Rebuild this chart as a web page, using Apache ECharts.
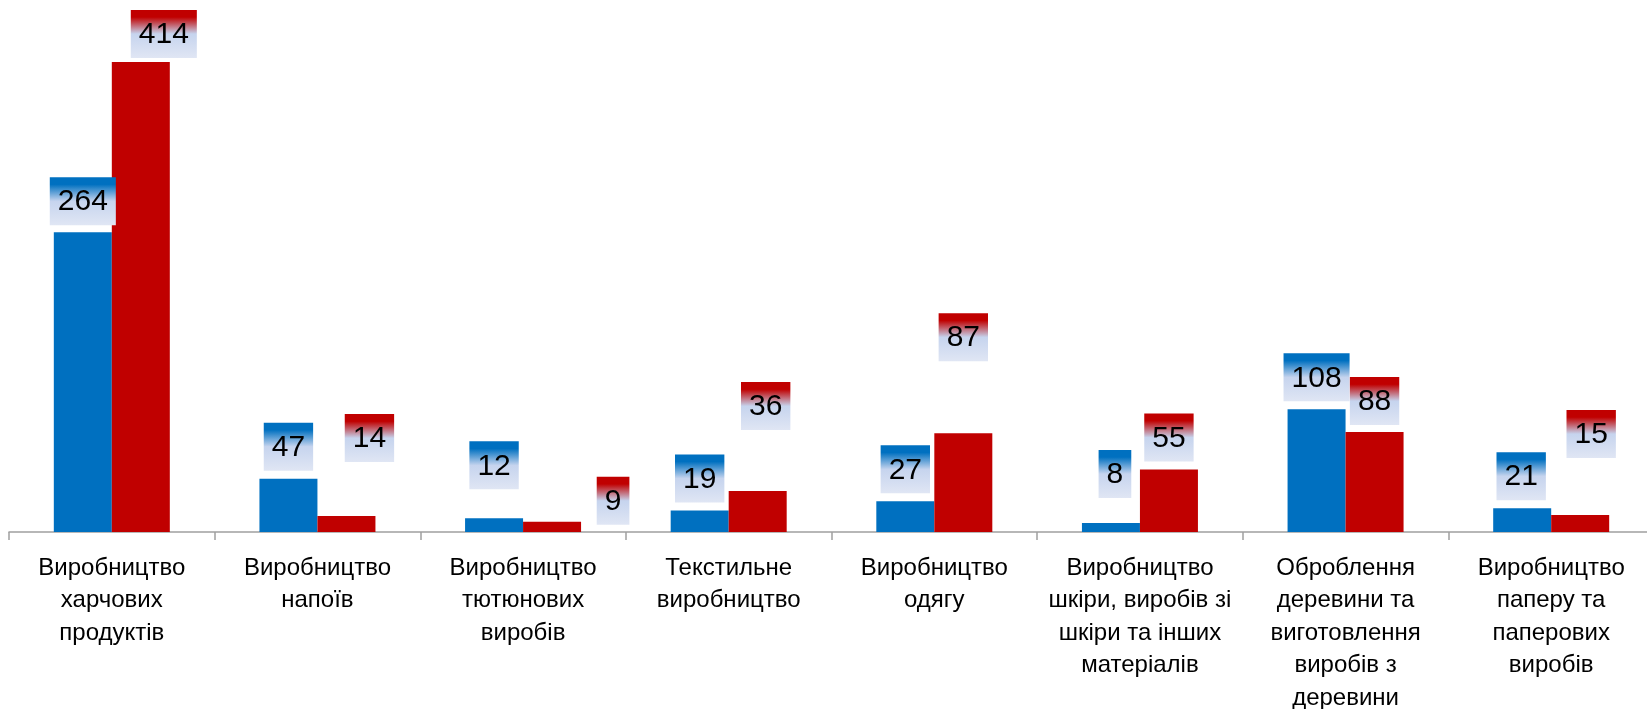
<!DOCTYPE html>
<html>
<head>
<meta charset="utf-8">
<script src="https://cdn.jsdelivr.net/npm/echarts@6/dist/echarts.min.js"></script>
<style>
    html, body { margin: 0; padding: 0; background: #fff; }
    #chart { width: 1647px; height: 709px; }
</style>
</head>
<body>
<div id="chart"></div>
<script>
const categories = [
    'Виробництво\nхарчових\nпродуктів',
    'Виробництво\nнапоїв',
    'Виробництво\nтютюнових\nвиробів',
    'Текстильне\nвиробництво',
    'Виробництво\nодягу',
    'Виробництво\nшкіри, виробів зі\nшкіри та інших\nматеріалів',
    'Оброблення\nдеревини та\nвиготовлення\nвиробів з\nдеревини',
    'Виробництво\nпаперу та\nпаперових\nвиробів'
]
const blueValues = [264, 47, 12, 19, 27, 8, 108, 21]
const redValues = [414, 14, 9, 36, 87, 55, 88, 15]

// labels were moved by hand in the original, so nudge them the same way
const blueLabelShift = [[0, -7], [0, -8], [0, -29], [0, -8], [0, -8], [4, -25], [0, -8], [-1, -8]]
const redLabelShift = [[23, -4], [23, -54], [61, 3], [8, -61], [0, -72], [0, -8], [0, -7], [11, -57]]

const font = '"Liberation Sans", Arial, sans-serif'

function labelBox(topColor) {
    return new echarts.graphic.LinearGradient(0, 0, 0, 1, [
        {offset: 0, color: topColor},
        {offset: 0.15, color: topColor},
        {offset: 0.5, color: '#c6d4ee'},
        {offset: 1, color: '#e0e6f4'}
    ])
}

function makeSeries(values, shifts, color) {
    return {
        type: 'bar',
        barWidth: 58,
        barGap: '0%',
        itemStyle: {color: color},
        label: {
            show: true,
            position: 'top',
            distance: 0,
            color: '#000',
            fontSize: 30,
            fontFamily: font,
            backgroundColor: labelBox(color),
            padding: [2, 8, 0, 8],
            height: 46,
            lineHeight: 46
        },
        data: values.map((v, i) => ({
            value: v,
            label: {offset: shifts[i]}
        }))
    }
}

const chart = echarts.init(document.getElementById('chart'))
chart.setOption({
    animation: false,
    grid: {
        left: 9,
        right: -7,
        top: 21,
        bottom: 177,
        outerBoundsMode: 'none',
        containLabel: false
    },
    xAxis: {
        type: 'category',
        data: categories,
        axisLine: {lineStyle: {color: '#a0a0a0', width: 1.5}},
        axisTick: {show: true, length: 8, lineStyle: {color: '#a0a0a0', width: 1.5}},
        axisLabel: {
            interval: 0,
            color: '#000',
            fontSize: 24,
            fontFamily: font,
            lineHeight: 32.5,
            margin: 20
        }
    },
    yAxis: {
        type: 'value',
        min: 0,
        max: 450,
        show: false,
        splitLine: {show: false}
    },
    series: [
        makeSeries(blueValues, blueLabelShift, '#0070c0'),
        makeSeries(redValues, redLabelShift, '#c00000')
    ]
})
</script>
</body>
</html>
